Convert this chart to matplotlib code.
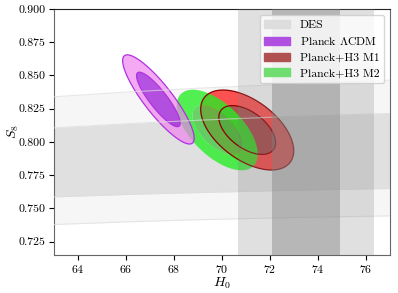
import numpy as np
import matplotlib
matplotlib.use("Agg")
import matplotlib.pyplot as plt
from matplotlib.patches import Patch

plt.rcParams["font.family"] = "serif"
plt.rcParams["font.serif"] = ["cmr10", "DejaVu Serif"]
plt.rcParams["mathtext.fontset"] = "cm"
plt.rcParams["axes.formatter.use_mathtext"] = True
plt.rcParams["axes.unicode_minus"] = False

# ---------------- data ----------------
# DES band in (H0, S8): edges
des_h0 = [63.0, 66.0, 69.1, 73.0, 77.0]
des_in_lo = [0.7587, 0.7605, 0.7620, 0.7637, 0.7650]
des_in_hi = [0.8106, 0.8137, 0.8164, 0.8193, 0.8215]
des_out_lo = [0.7379, 0.7399, 0.7416, 0.7432, 0.7444]
des_out_hi = [0.8340, 0.8375, 0.8405, 0.8437, 0.8465]

# local H0 measurement band
h0_mean = 73.5
h0_sigma = 1.4

# Gaussian posteriors: mean H0, mean S8, sigma H0, sigma S8, correlation
planck_lcdm = [67.35, 0.832, 0.60, 0.0135, -0.87]
planck_m1 = [71.05, 0.809, 0.78, 0.0121, -0.52]
planck_m2 = [69.80, 0.809, 0.68, 0.0122, -0.60]

labels = ["DES", r"Planck $\Lambda$CDM", "Planck+H3 M1", "Planck+H3 M2"]
xticks = [64, 66, 68, 70, 72, 74, 76]
yticks = [0.725, 0.750, 0.775, 0.800, 0.825, 0.850, 0.875, 0.900]

# ---------------- plot ----------------
fig = plt.figure(figsize=(3.98, 2.93), dpi=100)
ax = fig.add_axes([54 / 398, 1 - 255 / 293, 336 / 398, 246 / 293])
ax.set_xlim(63, 77)
ax.set_ylim(0.715, 0.9)

ax.fill_between(des_h0, des_out_lo, des_out_hi, color="#f6f6f6", lw=0, zorder=1)
ax.fill_between(des_h0, des_in_lo, des_in_hi, color="#e0e0e0", lw=0, zorder=1)

X, Y = np.meshgrid(np.linspace(63, 77, 500), np.linspace(0.715, 0.9, 500))


def chi2(p):
    mx, my, sx, sy, r = p
    dx = (X - mx) / sx
    dy = (Y - my) / sy
    return (dx * dx - 2 * r * dx * dy + dy * dy) / (1 - r * r)


levels = [0, 2.30, 6.17]
# M1 (red)
c = chi2(planck_m1)
ax.contourf(X, Y, c, levels=levels, colors=["#8b0000", "red"], alpha=0.67,
            antialiased=True, zorder=2)
# M2 (green)
c2 = chi2(planck_m2)
ax.contourf(X, Y, c2, levels=levels, colors=["#40c840", "#22ee22"], alpha=0.78,
            antialiased=True, zorder=3)
ax.contour(X, Y, c, levels=levels[1:], colors="#8b0000", linewidths=0.9, zorder=4)
# Planck LCDM (purple)
c3 = chi2(planck_lcdm)
ax.contourf(X, Y, c3, levels=levels, colors=["darkviolet", "violet"], alpha=0.68,
            antialiased=True, zorder=5)
ax.contour(X, Y, c3, levels=levels[1:], colors="#b030e0", linewidths=0.9, zorder=6)

# DES edge lines over contours
for arr in (des_in_lo, des_in_hi, des_out_lo, des_out_hi):
    ax.plot(des_h0, arr, color="#dddddd", lw=0.8, alpha=0.7, zorder=7)

# vertical H0 bands
ax.axvspan(h0_mean - 2 * h0_sigma - 0.02, h0_mean + 2 * h0_sigma + 0.02, color="gray",
           alpha=0.24, lw=0, zorder=8)
ax.axvspan(h0_mean - h0_sigma, h0_mean + h0_sigma, color="gray", alpha=0.42, lw=0, zorder=8)

ax.set_xticks(xticks)
ax.set_yticks(yticks)
ax.set_yticklabels([f"{v:.3f}" for v in yticks])
ax.tick_params(labelsize=8.5, pad=2.5)
ax.set_xlabel(r"$H_0$", fontsize=10, labelpad=0)
ax.set_ylabel(r"$S_8$", fontsize=10, labelpad=-2)
for s in ("left", "bottom", "right"):
    ax.spines[s].set_color("#666666")
ax.spines["top"].set_color("#222222")

handles = [
    Patch(color="#dddddd"),
    Patch(color="#b050e0"),
    Patch(color="#b05050"),
    Patch(color="#70dd70"),
]
leg = ax.legend(handles, labels, loc="upper right", fontsize=8.5, handlelength=2.2,
                borderpad=0.4, labelspacing=0.45, framealpha=0.8)
leg.set_zorder(20)
fig.savefig("out.png", dpi=100)
